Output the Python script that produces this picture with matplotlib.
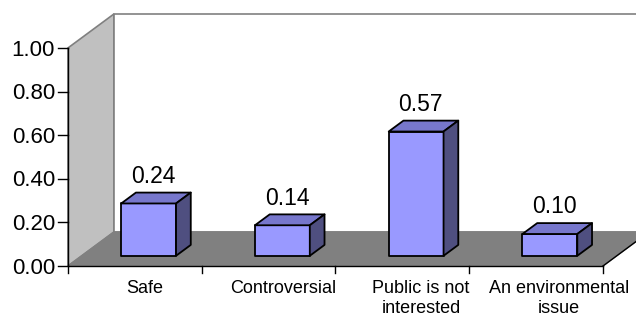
import matplotlib.pyplot as plt
from matplotlib.patches import Polygon

plt.rcParams['font.family'] = ['Liberation Sans', 'DejaVu Sans']

# data
categories = ["Safe", "Controversial", "Public is not\ninterested", "An environmental\nissue"]
values = [0.24, 0.14, 0.57, 0.10]
yticks = [0.0, 0.2, 0.4, 0.6, 0.8, 1.0]

# 3d look (data units): depth vector and bar placement
DX, DY = 0.344, 0.156
F0, F1 = 0.30, 0.62
BAR_W = 0.41

front_col = '#9999ff'
top_col = '#7777cc'
side_col = '#4f4f80'

fig = plt.figure(figsize=(6.36, 3.13), dpi=100)
ax = fig.add_axes([0, 0, 1, 1])
ax.set_xlim(-0.508, 4.247)
ax.set_ylim(-0.2156, 1.22)
ax.axis('off')

n = len(categories)

# walls and floor
ax.add_patch(Polygon([(0, 0), (DX, DY), (DX, 1 + DY), (0, 1)],
                     closed=True, fc='#c0c0c0', ec='#808080', lw=1.2))
ax.add_patch(Polygon([(DX, DY), (n + DX, DY), (n + DX, 1 + DY), (DX, 1 + DY)],
                     closed=True, fc='white', ec='#808080', lw=1.2))
ax.add_patch(Polygon([(0, 0), (n, 0), (n + DX, DY), (DX, DY)],
                     closed=True, fc='#808080', ec='#808080', lw=1))
ax.plot([n, n + DX], [0, DY], color='black', lw=1)

# bars
for i, v in enumerate(values):
    x0 = i + 0.5 - BAR_W / 2
    x1 = i + 0.5 + BAR_W / 2
    a0, b0 = F0 * DX, F0 * DY
    a1, b1 = F1 * DX, F1 * DY
    front = [(x0 + a0, b0), (x1 + a0, b0), (x1 + a0, v + b0), (x0 + a0, v + b0)]
    top = [(x0 + a0, v + b0), (x1 + a0, v + b0), (x1 + a1, v + b1), (x0 + a1, v + b1)]
    side = [(x1 + a0, b0), (x1 + a1, b1), (x1 + a1, v + b1), (x1 + a0, v + b0)]
    for pts, c in [(front, front_col), (top, top_col), (side, side_col)]:
        ax.add_patch(Polygon(pts, closed=True, fc=c, ec='black', lw=1.3,
                             joinstyle='round'))
    ax.text(i + 0.48 + (F0 + F1) / 2 * DX, v + b1 + 0.045, f"{v:.2f}",
            ha='center', va='baseline', fontsize=16.5)

# value axis
ax.plot([0, 0], [-0.03, 1], color='black', lw=1)
for t in yticks:
    ax.plot([-0.075, 0], [t, t], color='black', lw=1)
    ax.text(-0.097, t - 0.01, f"{t:.2f}", ha='right', va='center', fontsize=16)

# category axis
ax.plot([0, n], [0, 0], color='black', lw=1)
for i in range(1, n + 1):
    ax.plot([i, i], [0, -0.03], color='black', lw=1)
# labels sit a little right of the category centres, as in the original
for i, c in enumerate(categories):
    ax.text(0.576 + 1.032 * i, -0.066, c, ha='center', va='top',
            fontsize=13, linespacing=1.2)

fig.savefig('out.png', dpi=100)
